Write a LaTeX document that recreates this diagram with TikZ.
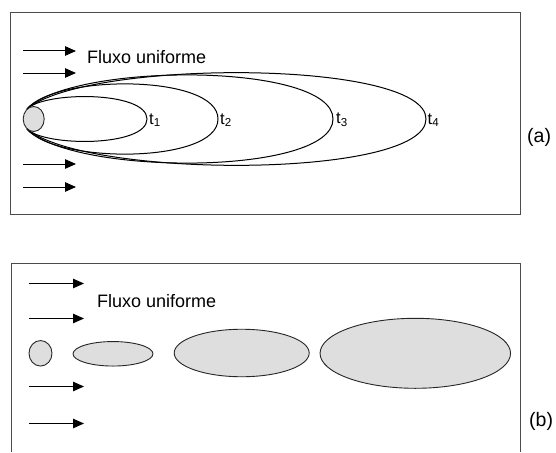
\documentclass[tikz,border=0pt]{standalone}
\usepackage{fontspec}
\setmainfont{Liberation Sans}
\usetikzlibrary{arrows.meta,shapes.geometric}
\begin{document}
\begin{tikzpicture}[x=1pt,y=-1pt,
  flow/.style={line width=1pt,-{Triangle[length=11pt,width=9.5pt]}},
  frame/.style={draw=black!70,line width=1pt},
  body/.style={ellipse,draw=black!85,fill=black!13,line width=0.9pt,inner sep=0pt},
  front/.style={line width=1pt},
  lbl/.style={inner sep=0pt,font=\fontsize{18}{20}\selectfont},
  tl/.style={inner sep=0pt,anchor=west,font=\fontsize{16.5}{18}\selectfont}
]
\useasboundingbox (0,0) rectangle (556,452);

% ---------- panel (a) ----------
\draw[frame] (10,13) rectangle (520,214);
\foreach \i/\y in {1/51,2/73,3/164,4/187}{
  \coordinate (as\i) at (23,\y);
  \coordinate (ae\i) at (76,\y);
  \draw[flow] (as\i) -- (ae\i);
}
\node[lbl,anchor=west] (fa) at (87,57) {Fluxo uniforme};

% fronts t1..t4
\foreach \xt/\h in {147/28, 218/45, 333/57, 426/60}{
  \pgfmathsetmacro{\cx}{27+0.15*(\xt-27)}
  \draw[front] (27,109) .. controls (\cx,119-\h) and (\xt,119-\h) .. (\xt,119)
     .. controls (\xt,119+\h) and (\cx,119+\h) .. (27,129);
}
\node[body,minimum width=21pt,minimum height=25pt] (cylA) at (33.7,119) {};

\node[tl] (t1) at (149,120) {t\textsubscript{1}};
\node[tl] (t2) at (220,120) {t\textsubscript{2}};
\node[tl] (t3) at (336,120) {t\textsubscript{3}};
\node[tl] (t4) at (427.5,120) {t\textsubscript{4}};

\node[lbl,anchor=west,font=\fontsize{19.5}{22}\selectfont] (la) at (527,137) {(a)};

% ---------- panel (b) ----------
\draw[frame] (11,452) -- (11,263) -- (520.5,263) -- (520.5,452);
\foreach \i/\y in {1/283.5,2/318.5,3/386.5,4/423.5}{
  \coordinate (bs\i) at (29,\y);
  \coordinate (be\i) at (84,\y);
  \draw[flow] (bs\i) -- (be\i);
}
\node[lbl,anchor=west] (fb) at (97,301.5) {Fluxo uniforme};

\node[body,minimum width=23pt,minimum height=25.5pt] (e1) at (40.5,353.3) {};
\node[body,minimum width=80pt,minimum height=24.5pt] (e2) at (113,353.8) {};
\node[body,minimum width=135pt,minimum height=47.5pt] (e3) at (241.7,353) {};
\node[body,minimum width=190.5pt,minimum height=70pt] (e4) at (415.3,353.3) {};

\node[lbl,anchor=west,font=\fontsize{19.5}{22}\selectfont] (lb) at (529,421.7) {(b)};
\end{tikzpicture}
\end{document}
